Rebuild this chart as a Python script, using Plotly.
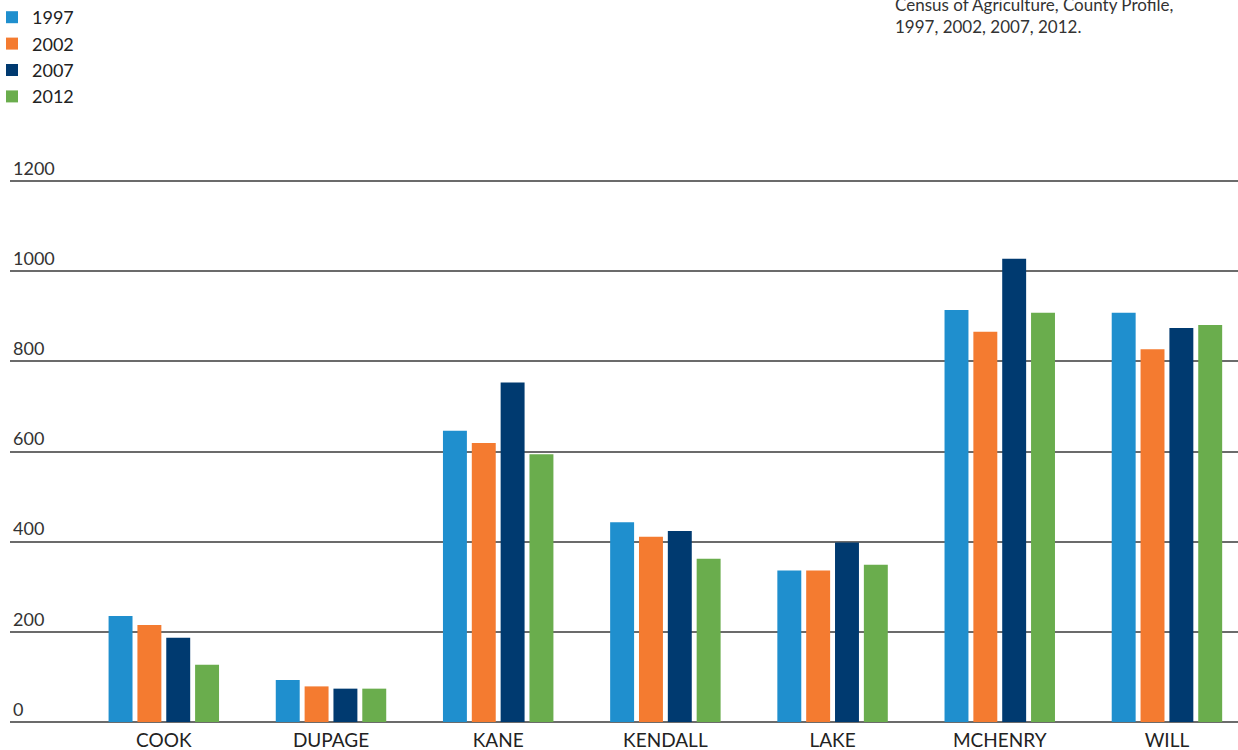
import plotly.graph_objects as go

counties = ["COOK", "DUPAGE", "KANE", "KENDALL", "LAKE", "MCHENRY", "WILL"]
years = ["1997", "2002", "2007", "2012"]
v1997 = [235, 93, 646, 443, 336, 914, 908]
v2002 = [215, 79, 619, 411, 336, 866, 827]
v2007 = [187, 74, 753, 424, 398, 1028, 874]
v2012 = [127, 74, 594, 362, 349, 908, 881]
colors = ["#1f8fce", "#f47b30", "#003a70", "#6aad4d"]
y_ticks = [0, 200, 400, 600, 800, 1000, 1200]

FONT = "Lato"
TOP = 155
BOT = 28
PH = 750 - TOP - BOT
PW = 1238 - 10

def py(px):
    return 1 + (TOP - px) / PH

def px_(x):
    return (x - 10) / PW

fig = go.Figure()
for name, vals, col in zip(years, [v1997, v2002, v2007, v2012], colors):
    fig.add_trace(go.Bar(x=counties, y=vals, name=name, marker_color=col,
                         marker_line_width=0, legendgroup=name))

fig.update_layout(
    width=1238, height=750,
    paper_bgcolor="white", plot_bgcolor="white",
    barmode="group", bargap=0.31, bargroupgap=0.17,
    margin=dict(l=10, r=0, t=TOP, b=BOT, autoexpand=False),
    font=dict(family=FONT, size=18, color="#222222"),
    showlegend=True,
    legend=dict(x=px_(-8), y=py(-1), xanchor="left", yanchor="top",
                traceorder="normal", tracegroupgap=3,
                font=dict(size=18, color="#222222"),
                itemwidth=30, bgcolor="rgba(0,0,0,0)"),
    xaxis=dict(range=[-0.92, 6.425], showgrid=False, showline=False, automargin=False,
               ticks="", ticklabelstandoff=5,
               tickfont=dict(size=19, color="#222222"), fixedrange=True),
    yaxis=dict(range=[0, 1258], tickvals=y_ticks, ticktext=[str(t) for t in y_ticks],
               ticklabelposition="inside top", showgrid=True, gridcolor="#6b6b6b",
               gridwidth=1.5, zeroline=True, zerolinecolor="#6b6b6b", zerolinewidth=1.5,
               showline=False, ticks="", automargin=False, fixedrange=True,
               tickfont=dict(size=18, color="#333333")),
)

fig.add_annotation(
    text="Census of Agriculture, County Profile,<br>1997, 2002, 2007, 2012.",
    xref="paper", yref="paper", x=px_(893), y=py(-8), xanchor="left", yanchor="top",
    align="left", showarrow=False, font=dict(size=17, color="#333333", family=FONT),
)

fig.write_html("out.html", config={"displayModeBar": False},
               post_script="document.body.style.margin='0';document.body.style.padding='0';")
